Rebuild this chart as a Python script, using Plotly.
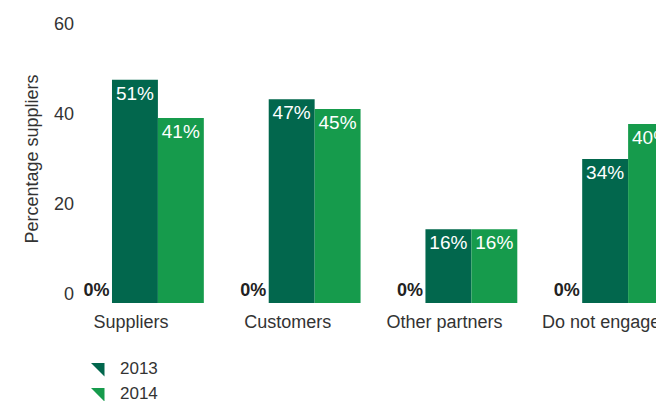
import plotly.graph_objects as go

categories = ["Suppliers", "Customers", "Other partners", "Do not engage"]
values_blank = [0, 0, 0, 0]
values_2013 = [49.6, 45.3, 16.4, 32.0]
values_2014 = [41.1, 43.1, 16.4, 39.8]
labels_blank = ["0%", "0%", "0%", "0%"]
labels_2013 = ["51%", "47%", "16%", "34%"]
labels_2014 = ["41%", "45%", "16%", "40%"]
y_ticks = [0, 20, 40, 60]

dark_green = "#02674d"
light_green = "#169b4c"
font_family = "Liberation Sans, Arial, sans-serif"
bar_width = 0.293

fig = go.Figure()

# empty series that only shows its "0%" labels
fig.add_trace(go.Bar(
    x=categories, y=values_blank,
    width=bar_width, offset=-0.366,
    text=labels_blank, textposition="outside",
    textfont=dict(size=18, color="#222", weight="bold"),
    marker=dict(color=dark_green, line_width=0),
    showlegend=False, cliponaxis=False,
))
fig.add_trace(go.Bar(
    x=categories, y=values_2013,
    width=bar_width, offset=-0.121,
    text=labels_2013,
    textposition="inside", insidetextanchor="end", textangle=0,
    textfont=dict(size=19, color="white"),
    marker=dict(color=dark_green, line_width=0),
    showlegend=False,
))
fig.add_trace(go.Bar(
    x=categories, y=values_2014,
    width=bar_width, offset=0.172,
    text=labels_2014,
    textposition="inside", insidetextanchor="end", textangle=0,
    textfont=dict(size=19, color="white"),
    marker=dict(color=light_green, line_width=0),
    showlegend=False,
))

# legend entries drawn with triangle markers
fig.add_trace(go.Scatter(
    x=[None], y=[None], mode="markers", name="2013",
    marker=dict(symbol="triangle-ne", size=15, color=dark_green),
))
fig.add_trace(go.Scatter(
    x=[None], y=[None], mode="markers", name="2014",
    marker=dict(symbol="triangle-ne", size=15, color=light_green),
))

# page body adds an 8px margin, so the figure is sized to fit the window
fig.update_layout(
    width=656, height=393,
    margin=dict(l=67, r=0, t=7, b=98, autoexpand=False),
    barmode="overlay",
    plot_bgcolor="white", paper_bgcolor="white",
    font=dict(family=font_family, size=18, color="#333"),
    legend=dict(x=0.0085, y=-0.163, xanchor="left", yanchor="top",
                font=dict(size=17, color="#333")),
)
fig.update_xaxes(range=[-0.357, 3.401], showline=False, showgrid=False,
                 ticks="", ticklabelstandoff=6, automargin=False,
                 tickfont=dict(size=18, color="#333"))
fig.update_yaxes(range=[0, 64], tickvals=y_ticks, showgrid=False,
                 zeroline=False, showline=False, ticks="", ticklabelshift=-9,
                 automargin=False, tickfont=dict(size=18, color="#333"),
                 title=dict(text="Percentage suppliers", standoff=10,
                            font=dict(size=18, color="#333")))

fig.write_html("out.html")
